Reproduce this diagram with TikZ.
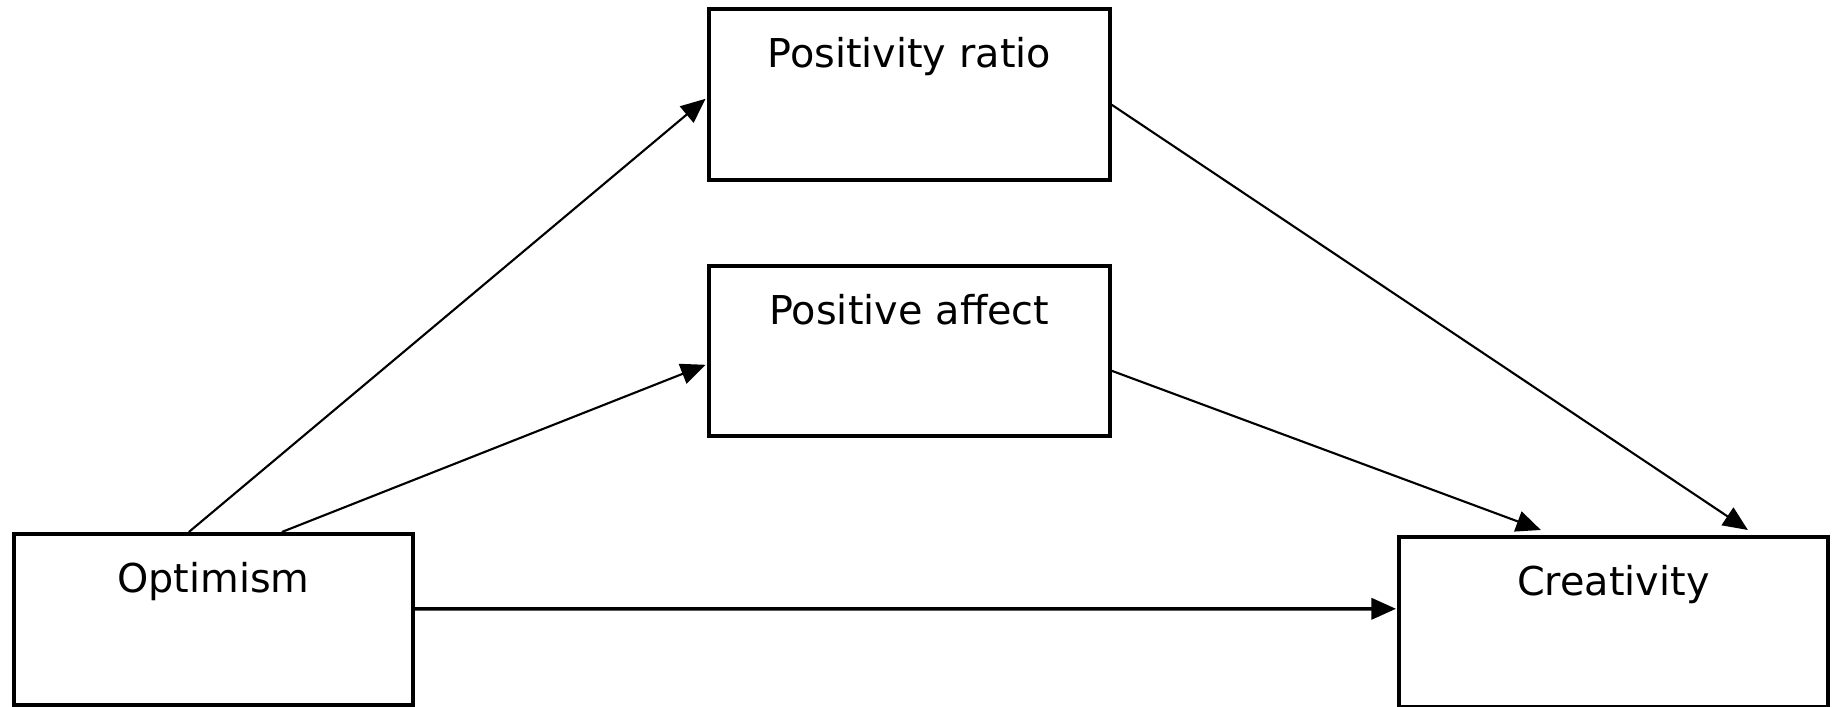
\documentclass[tikz,border=0pt]{standalone}
\usepackage{fontspec}
\setmainfont{DejaVu Sans}
\usetikzlibrary{arrows.meta, calc}
\tikzstyle{block} = [draw, rectangle, line width=1pt, inner sep=0pt, align=center, text height=0.59cm, text depth=1.12cm, font=\fontsize{11.3}{13}\selectfont]
\tikzstyle{path} = [->, line width=0.6pt]

\begin{document}
\begin{tikzpicture}[x=0.01cm, y=-0.01cm, >={Triangle[length=7pt, width=6pt]}]
        \useasboundingbox (0,0) rectangle (1833,707);

        % 放置节点
        \node [block, text width=3.99cm, anchor=north west] (opt) at (12,532) {Optimism};
        \node [block, text width=4.01cm, anchor=north west] (ratio) at (707,7) {Positivity ratio};
        \node [block, text width=4.01cm, anchor=north west, text depth=1.11cm] (affect) at (707,264) {Positive affect};
        \node [block, text width=4.29cm, anchor=north west, text depth=1.11cm] (creat) at (1397,535) {Creativity};

        % 连线
        \draw [path] ($(opt.north)+(-24.5,0)$) -- ($(ratio.west)+(-1.5,4.5)$);
        \draw [path] ($(opt.north)+(68.5,0)$) -- ($(affect.west)+(-1.5,14)$);
        \draw [path] ($(affect.east)+(0,20)$) -- ($(creat.north)+(-72.5,-5)$);
        \draw [path] ($(ratio.east)+(0,10.5)$) -- ($(creat.north)+(134.5,-5)$);
        \draw [path, line width=1pt] ($(opt.east)+(0,-10.5)$) -- ($(creat.west)+(-1,-13)$);
    \end{tikzpicture}
\end{document}
